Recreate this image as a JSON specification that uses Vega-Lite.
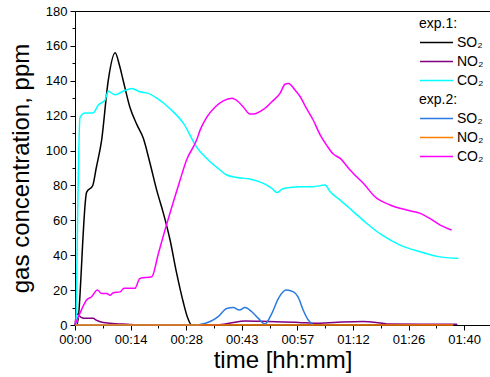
{
  "$schema": "https://vega.github.io/schema/vega-lite/v6.json",
  "autosize": {"type": "none"},
  "padding": {"left": 75, "top": 11, "right": 0, "bottom": 52},
  "width": 415,
  "height": 314,
  "background": "white",
  "config": {
    "font": "Liberation Sans",
    "view": {"stroke": "black", "strokeWidth": 1},
    "axis": {"grid": false, "domainColor": "black", "tickColor": "black", "labelColor": "black", "titleColor": "black", "labelFontSize": 13, "titleFontSize": 24, "titleFontWeight": "normal", "labelFont": "Liberation Sans", "titleFont": "Liberation Sans"},
    "legend": {"orient": "none", "padding": 0, "titleFontSize": 14, "titleFontWeight": "normal", "labelFontSize": 14, "titleColor": "black", "labelColor": "black", "symbolType": "stroke", "symbolSize": 1089, "symbolStrokeWidth": 1.5, "clipHeight": 19, "rowPadding": 0, "labelOffset": 3, "titlePadding": 2, "titleFont": "Liberation Sans", "labelFont": "Liberation Sans"}
  },
  "datasets": {
    "exp1": [
      {"gas": "SO₂", "t": 0, "v": 0}, {"gas": "SO₂", "t": 0.5, "v": 0}, {"gas": "SO₂", "t": 3, "v": 76}, {"gas": "SO₂", "t": 4.6, "v": 80}, {"gas": "SO₂", "t": 5.5, "v": 90}, {"gas": "SO₂", "t": 6.9, "v": 106}, {"gas": "SO₂", "t": 8.6, "v": 140}, {"gas": "SO₂", "t": 10.4, "v": 156}, {"gas": "SO₂", "t": 11.5, "v": 149}, {"gas": "SO₂", "t": 12.5, "v": 140}, {"gas": "SO₂", "t": 14.2, "v": 125}, {"gas": "SO₂", "t": 16, "v": 115}, {"gas": "SO₂", "t": 17.7, "v": 107}, {"gas": "SO₂", "t": 19.4, "v": 93}, {"gas": "SO₂", "t": 21.2, "v": 77}, {"gas": "SO₂", "t": 22.9, "v": 64}, {"gas": "SO₂", "t": 24.6, "v": 49}, {"gas": "SO₂", "t": 26.3, "v": 30}, {"gas": "SO₂", "t": 28.1, "v": 12.6}, {"gas": "SO₂", "t": 29.2, "v": 4}, {"gas": "SO₂", "t": 30.2, "v": 0}, {"gas": "SO₂", "t": 60, "v": 0}, {"gas": "SO₂", "t": 99, "v": 0},
      {"gas": "NO₂", "t": 0, "v": 0}, {"gas": "NO₂", "t": 0.4, "v": 6.5}, {"gas": "NO₂", "t": 1.5, "v": 4.5}, {"gas": "NO₂", "t": 2.2, "v": 3.8}, {"gas": "NO₂", "t": 4.7, "v": 3.8}, {"gas": "NO₂", "t": 5.5, "v": 2.8}, {"gas": "NO₂", "t": 6.5, "v": 1.9}, {"gas": "NO₂", "t": 9.1, "v": 1}, {"gas": "NO₂", "t": 13.4, "v": 0.4}, {"gas": "NO₂", "t": 18, "v": 0}, {"gas": "NO₂", "t": 36, "v": 0}, {"gas": "NO₂", "t": 40, "v": 1}, {"gas": "NO₂", "t": 44, "v": 2.3}, {"gas": "NO₂", "t": 50, "v": 2}, {"gas": "NO₂", "t": 58, "v": 1.5}, {"gas": "NO₂", "t": 62, "v": 1}, {"gas": "NO₂", "t": 68, "v": 1.6}, {"gas": "NO₂", "t": 74.6, "v": 2}, {"gas": "NO₂", "t": 78, "v": 1.5}, {"gas": "NO₂", "t": 80.8, "v": 0.6}, {"gas": "NO₂", "t": 90, "v": 0.5}, {"gas": "NO₂", "t": 99, "v": 0.5},
      {"gas": "CO₂", "t": 0.3, "v": 0}, {"gas": "CO₂", "t": 1.3, "v": 119}, {"gas": "CO₂", "t": 2.6, "v": 121.6}, {"gas": "CO₂", "t": 4.7, "v": 121.6}, {"gas": "CO₂", "t": 6, "v": 126}, {"gas": "CO₂", "t": 7.8, "v": 129}, {"gas": "CO₂", "t": 8.6, "v": 134}, {"gas": "CO₂", "t": 10.4, "v": 132}, {"gas": "CO₂", "t": 12.5, "v": 134}, {"gas": "CO₂", "t": 14.7, "v": 135.6}, {"gas": "CO₂", "t": 16.8, "v": 133.7}, {"gas": "CO₂", "t": 19, "v": 132.8}, {"gas": "CO₂", "t": 21.2, "v": 130}, {"gas": "CO₂", "t": 24.6, "v": 124}, {"gas": "CO₂", "t": 28.1, "v": 115.6}, {"gas": "CO₂", "t": 31.5, "v": 102}, {"gas": "CO₂", "t": 33, "v": 98}, {"gas": "CO₂", "t": 35, "v": 93.6}, {"gas": "CO₂", "t": 37.1, "v": 89.7}, {"gas": "CO₂", "t": 39.3, "v": 86}, {"gas": "CO₂", "t": 41.9, "v": 84.6}, {"gas": "CO₂", "t": 45.3, "v": 83.7}, {"gas": "CO₂", "t": 48.8, "v": 81.2}, {"gas": "CO₂", "t": 51, "v": 78.3}, {"gas": "CO₂", "t": 52.3, "v": 76}, {"gas": "CO₂", "t": 54, "v": 78.3}, {"gas": "CO₂", "t": 58.3, "v": 79.3}, {"gas": "CO₂", "t": 61.7, "v": 79.3}, {"gas": "CO₂", "t": 64.8, "v": 80.2}, {"gas": "CO₂", "t": 66.1, "v": 76.4}, {"gas": "CO₂", "t": 68.7, "v": 71.6}, {"gas": "CO₂", "t": 72.1, "v": 65}, {"gas": "CO₂", "t": 75.6, "v": 58.2}, {"gas": "CO₂", "t": 79.5, "v": 51.6}, {"gas": "CO₂", "t": 84.2, "v": 45.8}, {"gas": "CO₂", "t": 89.4, "v": 42}, {"gas": "CO₂", "t": 94.1, "v": 39.2}, {"gas": "CO₂", "t": 99.3, "v": 38.2}
    ],
    "exp2": [
      {"gas": "SO₂", "t": 0, "v": 0}, {"gas": "SO₂", "t": 31, "v": 0}, {"gas": "SO₂", "t": 32.4, "v": 0.3}, {"gas": "SO₂", "t": 35, "v": 2}, {"gas": "SO₂", "t": 37.1, "v": 4.8}, {"gas": "SO₂", "t": 39.3, "v": 9.5}, {"gas": "SO₂", "t": 41, "v": 10}, {"gas": "SO₂", "t": 42.6, "v": 8.6}, {"gas": "SO₂", "t": 44, "v": 10}, {"gas": "SO₂", "t": 45.8, "v": 7.6}, {"gas": "SO₂", "t": 47.5, "v": 3.8}, {"gas": "SO₂", "t": 49.2, "v": 0.6}, {"gas": "SO₂", "t": 51, "v": 6.7}, {"gas": "SO₂", "t": 52.7, "v": 15.3}, {"gas": "SO₂", "t": 54.7, "v": 20}, {"gas": "SO₂", "t": 56.6, "v": 19}, {"gas": "SO₂", "t": 57.8, "v": 16}, {"gas": "SO₂", "t": 59.1, "v": 8.6}, {"gas": "SO₂", "t": 60.4, "v": 2.9}, {"gas": "SO₂", "t": 61.7, "v": 0},
      {"gas": "NO₂", "t": 0, "v": 0}, {"gas": "NO₂", "t": 50, "v": 0}, {"gas": "NO₂", "t": 98, "v": 0},
      {"gas": "CO₂", "t": 0, "v": 0}, {"gas": "CO₂", "t": 1.3, "v": 6.8}, {"gas": "CO₂", "t": 3, "v": 14.3}, {"gas": "CO₂", "t": 4.3, "v": 16.2}, {"gas": "CO₂", "t": 5.8, "v": 20}, {"gas": "CO₂", "t": 6.9, "v": 18}, {"gas": "CO₂", "t": 8.2, "v": 18}, {"gas": "CO₂", "t": 9.1, "v": 17}, {"gas": "CO₂", "t": 9.9, "v": 18.5}, {"gas": "CO₂", "t": 11.7, "v": 19}, {"gas": "CO₂", "t": 12.7, "v": 21}, {"gas": "CO₂", "t": 15.5, "v": 21}, {"gas": "CO₂", "t": 16.8, "v": 26.7}, {"gas": "CO₂", "t": 19.9, "v": 27.7}, {"gas": "CO₂", "t": 21.6, "v": 41}, {"gas": "CO₂", "t": 23.3, "v": 54.4}, {"gas": "CO₂", "t": 25.1, "v": 67.8}, {"gas": "CO₂", "t": 27.2, "v": 83}, {"gas": "CO₂", "t": 28.9, "v": 94.6}, {"gas": "CO₂", "t": 31.5, "v": 106}, {"gas": "CO₂", "t": 32.4, "v": 111.7}, {"gas": "CO₂", "t": 34.1, "v": 119}, {"gas": "CO₂", "t": 36.3, "v": 125}, {"gas": "CO₂", "t": 38.4, "v": 128.5}, {"gas": "CO₂", "t": 40.6, "v": 130}, {"gas": "CO₂", "t": 42.3, "v": 128}, {"gas": "CO₂", "t": 43.6, "v": 125}, {"gas": "CO₂", "t": 45.3, "v": 121}, {"gas": "CO₂", "t": 46.2, "v": 121}, {"gas": "CO₂", "t": 48.8, "v": 123.6}, {"gas": "CO₂", "t": 51, "v": 128}, {"gas": "CO₂", "t": 53.1, "v": 132.8}, {"gas": "CO₂", "t": 54.4, "v": 138}, {"gas": "CO₂", "t": 55.3, "v": 138.5}, {"gas": "CO₂", "t": 57, "v": 134.7}, {"gas": "CO₂", "t": 58.3, "v": 131}, {"gas": "CO₂", "t": 60, "v": 124}, {"gas": "CO₂", "t": 61.7, "v": 117.5}, {"gas": "CO₂", "t": 63.5, "v": 109}, {"gas": "CO₂", "t": 65.2, "v": 103}, {"gas": "CO₂", "t": 66.9, "v": 98}, {"gas": "CO₂", "t": 68.7, "v": 95.5}, {"gas": "CO₂", "t": 71.2, "v": 89}, {"gas": "CO₂", "t": 72.1, "v": 86.9}, {"gas": "CO₂", "t": 74.7, "v": 81.2}, {"gas": "CO₂", "t": 77.7, "v": 73.5}, {"gas": "CO₂", "t": 81.6, "v": 68.8}, {"gas": "CO₂", "t": 85.9, "v": 65.9}, {"gas": "CO₂", "t": 89.4, "v": 64}, {"gas": "CO₂", "t": 92, "v": 61}, {"gas": "CO₂", "t": 94.6, "v": 57.3}, {"gas": "CO₂", "t": 97.6, "v": 54.4}
    ]
  },
  "encoding": {
    "x": {
      "field": "t", "type": "quantitative",
      "scale": {"domain": [0, 107.5], "nice": false, "zero": false},
      "axis": {
        "title": "time [hh:mm]",
        "values": [0, 7.2, 14.4, 21.6, 28.8, 36, 43.2, 50.4, 57.6, 64.8, 72, 79.2, 86.4, 93.6, 100.8],
        "labelExpr": "round(datum.value/7.2) % 2 == 0 ? (floor(datum.value/60) < 10 ? '0' : '') + floor(datum.value/60) + ':' + (floor(datum.value%60) < 10 ? '0' : '') + floor(datum.value%60) : ''",
        "tickSize": {"condition": {"test": "round(datum.value/7.2) % 2 == 0", "value": 5}, "value": 3},
        "labelPadding": 3,
        "titlePadding": 2,
        "labelFlush": false,
        "labelOverlap": false
      }
    },
    "y": {
      "field": "v", "type": "quantitative",
      "scale": {"domain": [0, 180], "nice": false},
      "axis": {
        "title": "gas concentration, ppm",
        "values": [0, 10, 20, 30, 40, 50, 60, 70, 80, 90, 100, 110, 120, 130, 140, 150, 160, 170, 180],
        "labelExpr": "datum.value % 20 == 0 ? datum.value : ''",
        "tickSize": {"condition": {"test": "datum.value % 20 == 0", "value": 5}, "value": 3},
        "labelPadding": 3,
        "titlePadding": 12,
        "labelOverlap": false
      }
    }
  },
  "layer": [
    {
      "data": {"name": "exp1"},
      "mark": {"type": "line", "interpolate": "monotone", "strokeWidth": 1.5},
      "encoding": {
        "color": {"field": "gas", "type": "nominal", "title": "exp.1:",
          "scale": {"domain": ["SO₂", "NO₂", "CO₂"], "range": ["#000000", "#800080", "#00ffff"]},
          "legend": {"legendX": 344, "legendY": 6}},
        "order": {"field": "t", "type": "quantitative"}
      }
    },
    {
      "data": {"name": "exp2"},
      "mark": {"type": "line", "interpolate": "monotone", "strokeWidth": 1.5},
      "encoding": {
        "color": {"field": "gas", "type": "nominal", "title": "exp.2:",
          "scale": {"domain": ["SO₂", "NO₂", "CO₂"], "range": ["#2a7ae2", "#ff8000", "#ff00ff"]},
          "legend": {"legendX": 344, "legendY": 82}},
        "order": {"field": "t", "type": "quantitative"}
      }
    }
  ],
  "resolve": {"scale": {"color": "independent"}}
}
